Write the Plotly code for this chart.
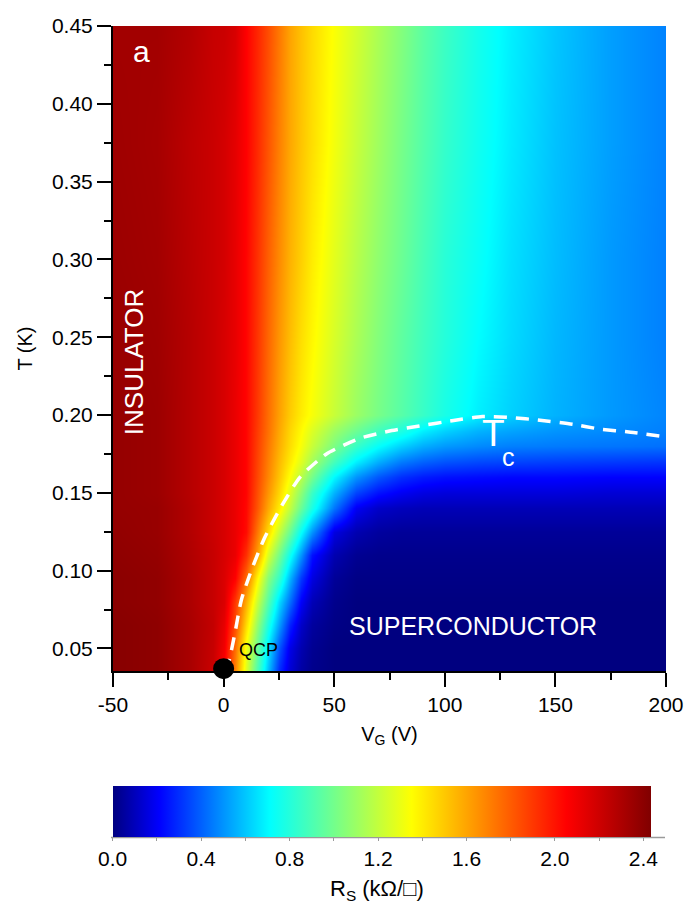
import plotly.graph_objects as go

# Gate voltage grid (V) and temperature grid (K) of the sheet-resistance map
vg = [-50, -30, -15, -5, 0, 5, 10, 15, 20, 25, 30, 35, 40, 50, 60, 70, 80, 90, 100, 115, 130, 150, 175, 200]
temp = [0.036, 0.05, 0.065, 0.08, 0.095, 0.11, 0.125, 0.14, 0.15, 0.16, 0.17, 0.18, 0.19, 0.20, 0.25, 0.30, 0.375, 0.45]

# Sheet resistance R_S (kOhm/sq), one row per temperature
rs_t036 = [2.41, 2.39, 2.31, 2.21, 2.05, 1.69, 1.27, 0.91, 0.59, 0.30, 0.14, 0.06, 0.02, 0.00, 0, 0, 0, 0, 0, 0, 0, 0, 0, 0]
rs_t050 = [2.41, 2.39, 2.31, 2.22, 2.09, 1.75, 1.32, 0.98, 0.66, 0.38, 0.17, 0.08, 0.03, 0.00, 0, 0, 0, 0, 0, 0, 0, 0, 0, 0]
rs_t065 = [2.41, 2.39, 2.31, 2.23, 2.12, 1.84, 1.45, 1.09, 0.78, 0.52, 0.27, 0.12, 0.05, 0.01, 0, 0, 0, 0, 0, 0, 0, 0, 0, 0]
rs_t080 = [2.40, 2.38, 2.30, 2.22, 2.16, 1.90, 1.57, 1.22, 0.92, 0.64, 0.42, 0.20, 0.09, 0.02, 0, 0, 0, 0, 0, 0, 0, 0, 0, 0]
rs_t095 = [2.40, 2.38, 2.30, 2.22, 2.16, 2.05, 1.76, 1.38, 1.05, 0.84, 0.56, 0.32, 0.16, 0.04, 0.01, 0.01, 0.01, 0.01, 0.01, 0.01, 0.01, 0.01, 0.01, 0.01]
rs_t110 = [2.39, 2.37, 2.29, 2.22, 2.17, 2.11, 1.92, 1.62, 1.25, 1.00, 0.74, 0.50, 0.24, 0.08, 0.03, 0.02, 0.02, 0.02, 0.02, 0.02, 0.02, 0.02, 0.02, 0.02]
rs_t125 = [2.38, 2.36, 2.28, 2.21, 2.17, 2.11, 2.02, 1.73, 1.45, 1.20, 0.97, 0.72, 0.50, 0.16, 0.08, 0.05, 0.04, 0.04, 0.04, 0.04, 0.04, 0.04, 0.04, 0.04]
rs_t140 = [2.37, 2.36, 2.28, 2.21, 2.17, 2.11, 2.03, 1.82, 1.59, 1.40, 1.19, 0.97, 0.77, 0.44, 0.19, 0.12, 0.10, 0.09, 0.09, 0.09, 0.09, 0.09, 0.09, 0.09]
rs_t150 = [2.37, 2.35, 2.27, 2.21, 2.17, 2.11, 2.04, 1.84, 1.64, 1.46, 1.26, 1.06, 0.85, 0.56, 0.34, 0.24, 0.19, 0.16, 0.15, 0.15, 0.15, 0.15, 0.14, 0.14]
rs_t160 = [2.37, 2.35, 2.27, 2.21, 2.17, 2.11, 2.04, 1.86, 1.68, 1.51, 1.34, 1.17, 1.00, 0.70, 0.50, 0.38, 0.30, 0.26, 0.24, 0.23, 0.22, 0.22, 0.21, 0.21]
rs_t170 = [2.37, 2.35, 2.27, 2.21, 2.17, 2.11, 2.04, 1.87, 1.70, 1.54, 1.40, 1.27, 1.12, 0.88, 0.68, 0.55, 0.45, 0.40, 0.37, 0.35, 0.34, 0.33, 0.32, 0.31]
rs_t180 = [2.37, 2.35, 2.27, 2.21, 2.17, 2.11, 2.04, 1.88, 1.72, 1.57, 1.44, 1.33, 1.21, 1.02, 0.85, 0.72, 0.62, 0.55, 0.51, 0.48, 0.46, 0.45, 0.44, 0.43]
rs_t190 = [2.37, 2.35, 2.27, 2.21, 2.17, 2.11, 2.04, 1.89, 1.74, 1.59, 1.46, 1.36, 1.26, 1.10, 0.98, 0.87, 0.78, 0.68, 0.62, 0.56, 0.53, 0.50, 0.48, 0.46]
rs_t200 = [2.37, 2.35, 2.27, 2.21, 2.17, 2.11, 2.04, 1.90, 1.75, 1.61, 1.49, 1.40, 1.33, 1.21, 1.10, 1.01, 0.93, 0.85, 0.77, 0.68, 0.62, 0.56, 0.51, 0.47]
rs_t250 = [2.36, 2.34, 2.27, 2.21, 2.17, 2.12, 2.04, 1.91, 1.77, 1.64, 1.53, 1.44, 1.37, 1.25, 1.14, 1.04, 0.95, 0.87, 0.80, 0.71, 0.64, 0.57, 0.51, 0.46]
rs_t300 = [2.35, 2.33, 2.26, 2.21, 2.18, 2.12, 2.04, 1.92, 1.79, 1.67, 1.56, 1.48, 1.40, 1.28, 1.17, 1.07, 0.98, 0.89, 0.81, 0.73, 0.65, 0.58, 0.51, 0.46]
rs_t375 = [2.34, 2.32, 2.25, 2.21, 2.18, 2.13, 2.05, 1.94, 1.82, 1.70, 1.59, 1.51, 1.44, 1.32, 1.21, 1.11, 1.01, 0.92, 0.84, 0.75, 0.67, 0.59, 0.52, 0.465]
rs_t450 = [2.33, 2.33, 2.28, 2.22, 2.21, 2.17, 2.05, 1.95, 1.84, 1.72, 1.60, 1.52, 1.45, 1.34, 1.24, 1.14, 1.04, 0.94, 0.86, 0.76, 0.68, 0.60, 0.52, 0.465]

rs = [rs_t036, rs_t050, rs_t065, rs_t080, rs_t095, rs_t110, rs_t125, rs_t140, rs_t150,
      rs_t160, rs_t170, rs_t180, rs_t190, rs_t200, rs_t250, rs_t300, rs_t375, rs_t450]

# Superconducting transition temperature Tc(V_G)
tc_vg = [0, 2, 5, 8, 12.5, 18.5, 26, 34.5, 46.5, 61.5, 76, 88.5, 104, 117, 129, 144, 158, 170, 184, 200]
tc_t = [0.036, 0.040, 0.059, 0.081, 0.100, 0.121, 0.141, 0.160, 0.175, 0.185, 0.190, 0.193, 0.1965,
        0.199, 0.1985, 0.1965, 0.194, 0.191, 0.189, 0.186]

# Quantum critical point
qcp_vg = [0]
qcp_t = [0.037]

# Axis ticks
x_ticks = [-50, 0, 50, 100, 150, 200]
x_ticktext = ["-50", "0", "50", "100", "150", "200"]
y_ticks = [0.05, 0.10, 0.15, 0.20, 0.25, 0.30, 0.35, 0.40, 0.45]
cb_ticks = [0.0, 0.2, 0.4, 0.6, 0.8, 1.0, 1.2, 1.4, 1.6, 1.8, 2.0, 2.2, 2.4]
cb_ticktext = ["0.0", "", "0.4", "", "0.8", "", "1.2", "", "1.6", "", "2.0", "", "2.4"]

FONT = "Liberation Sans, Arial, Helvetica, sans-serif"
W, H = 687, 911
ML, MR, MT, MB = 113, 21, 26, 240
PW, PH = W - ML - MR, H - MT - MB

X_RANGE = [-50, 200]
Y_RANGE = [0.0355, 0.45]
Z_MAX = 2.433


def px_x(p):
    return (p - ML) / PW


def px_y(p):
    return (H - MB - p) / PH


rainbow = [
    [0.0, "rgb(0,0,128)"],
    [0.0863, "rgb(0,0,255)"],
    [0.2918, "rgb(0,255,255)"],
    [0.5549, "rgb(255,255,0)"],
    [0.8426, "rgb(255,0,0)"],
    [1.0, "rgb(128,0,0)"],
]

fig = go.Figure()

fig.add_trace(go.Heatmap(
    x=vg, y=temp, z=rs,
    zmin=0, zmax=Z_MAX, zsmooth="best",
    colorscale=rainbow,
    hoverinfo="skip",
    colorbar=dict(
        orientation="h",
        lenmode="pixels", len=538,
        thickness=51,
        x=px_x(112.7), xanchor="left", xpad=0,
        y=px_y(786), yanchor="top", ypad=0,
        outlinewidth=0,
        tickmode="array", tickvals=cb_ticks, ticktext=cb_ticktext,
        ticks="outside", ticklen=4, tickwidth=1, tickcolor="#9a9a9a",
        tickfont=dict(family=FONT, size=21, color="black"),
    ),
))

fig.add_trace(go.Scatter(
    x=tc_vg, y=tc_t, mode="lines",
    line=dict(color="white", width=3.5, dash="13px,9px", shape="spline", smoothing=0.6),
    hoverinfo="skip", showlegend=False,
))

fig.add_trace(go.Scatter(
    x=qcp_vg, y=qcp_t, mode="markers",
    marker=dict(color="black", size=21),
    cliponaxis=False, hoverinfo="skip", showlegend=False,
))

annotations = [
    dict(x=-36.9, y=0.4335, text="a", font=dict(size=30, color="white")),
    dict(x=-40.5, y=0.234, text="INSULATOR", textangle=-90, font=dict(size=26, color="white")),
    dict(x=112.9, y=0.0645, text="SUPERCONDUCTOR", font=dict(size=25, color="white")),
    dict(x=121.8, y=0.1883, text="T", font=dict(size=37, color="white")),
    dict(x=128.6, y=0.1729, text="c", font=dict(size=25, color="white")),
    dict(x=15.8, y=0.0487, text="QCP", font=dict(size=18, color="black")),
]
for a in annotations:
    a.update(xref="x", yref="y", showarrow=False, xanchor="center", yanchor="middle")
    a["font"]["family"] = FONT
    fig.add_annotation(**a)

# Colour-bar caption
fig.add_annotation(
    xref="paper", yref="paper", x=px_x(377), y=px_y(890),
    xanchor="center", yanchor="middle",
    text="R<sub>S</sub> (kΩ/□)", showarrow=False,
    font=dict(family=FONT, size=22, color="black"),
)

# Grey baseline running under the colour bar
fig.add_shape(
    type="line", xref="paper", yref="paper",
    x0=px_x(111), x1=px_x(665), y0=px_y(837.5), y1=px_y(837.5),
    line=dict(color="#9a9a9a", width=1.5),
)

fig.update_layout(
    width=W, height=H,
    margin=dict(l=ML, r=MR, t=MT, b=MB, pad=0, autoexpand=False),
    paper_bgcolor="white", plot_bgcolor="white",
    font=dict(family=FONT, size=20, color="black"),
    showlegend=False,
    xaxis=dict(
        range=X_RANGE, tickmode="array", tickvals=x_ticks, ticktext=x_ticktext,
        ticks="outside", ticklen=14, tickwidth=2, tickcolor="black",
        minor=dict(dtick=25, tick0=0, ticks="outside", ticklen=7, tickwidth=2, tickcolor="black"),
        showline=True, linecolor="black", linewidth=2, mirror=False,
        showgrid=False, zeroline=False, automargin=False,
        tickfont=dict(size=21),
        title=dict(text="V<sub>G</sub> (V)", font=dict(size=20), standoff=12),
    ),
    yaxis=dict(
        range=Y_RANGE, tickmode="array", tickvals=y_ticks,
        ticktext=[f"{v:.2f}" for v in y_ticks],
        ticks="outside", ticklen=14, tickwidth=2, tickcolor="black",
        minor=dict(dtick=0.025, tick0=0, ticks="outside", ticklen=7, tickwidth=2, tickcolor="black"),
        showline=True, linecolor="black", linewidth=2, mirror=False,
        showgrid=False, zeroline=False, automargin=False,
        tickfont=dict(size=21),
        title=dict(text="T (K)", font=dict(size=20), standoff=14),
    ),
)

fig.write_html("out.html")
